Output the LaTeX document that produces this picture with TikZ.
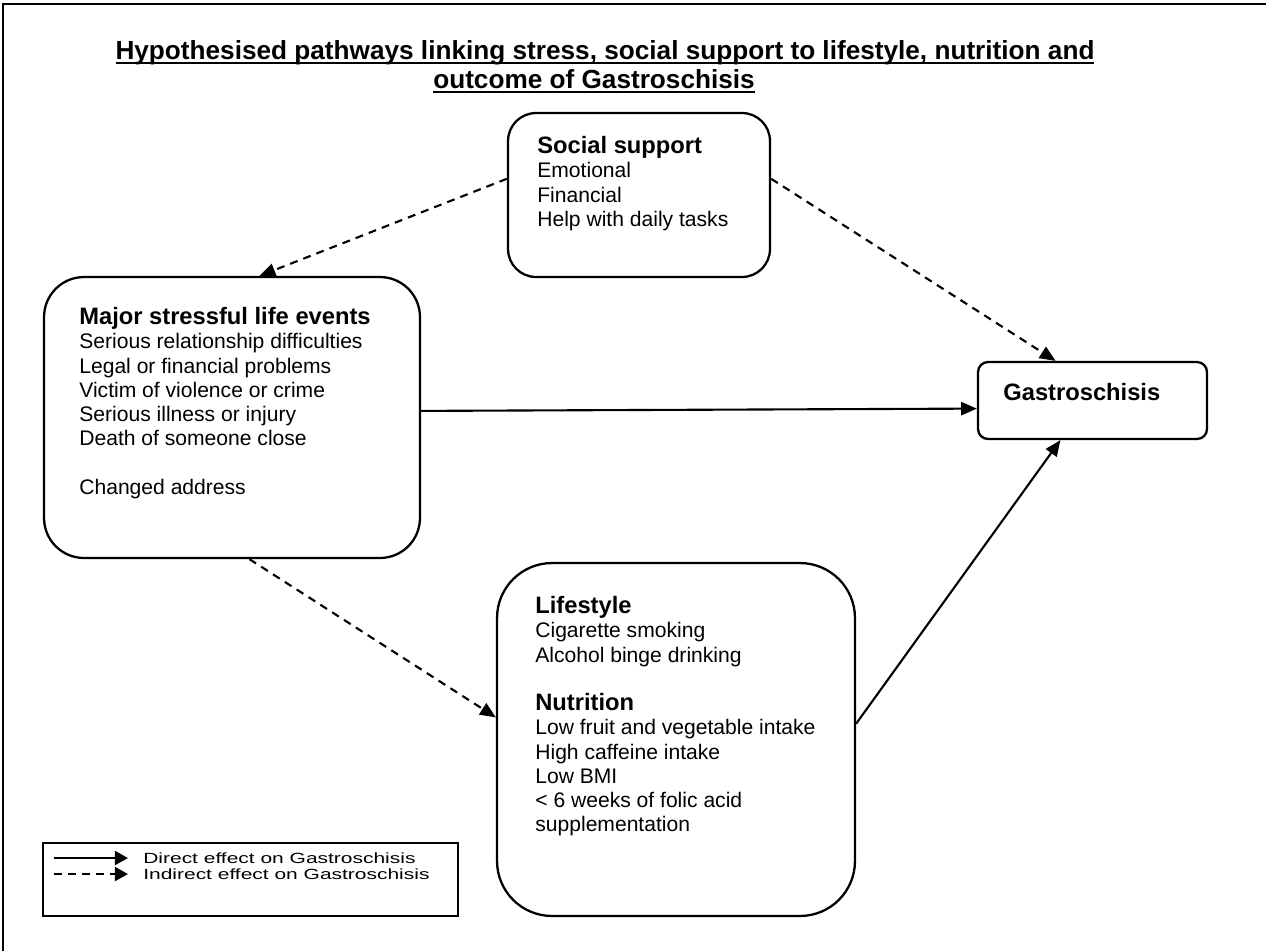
\documentclass[tikz,border=0pt]{standalone}
\usepackage{fontspec}
\setmainfont{Liberation Sans}
\newfontfamily\legendfont[FakeStretch=1.42]{Liberation Sans}
\usepackage{tikz}
\usetikzlibrary{arrows.meta}
\usetikzlibrary{positioning, shapes.misc}
\newcommand{\thickul}[1]{\leavevmode\setbox0=\hbox{#1}\rlap{\rule[-3pt]{\wd0}{1.4pt}}\box0}
\newcommand{\boxhead}[1]{{\fontsize{13.5}{13.8}\selectfont\bfseries #1}}
\tikzset{
factor box/.style = { rectangle, draw = black, fill = white, line width = 1.3pt, inner sep = 0pt },
factor text/.style = { anchor = north west, inner sep = 0pt, align = left, font = \fontsize{12}{13.8}\selectfont },
title line/.style = { anchor = base, inner sep = 0pt, font = \fontsize{14.9}{15.9}\selectfont\bfseries },
direct/.style = { line width = 1.2pt, -{Triangle[length = 9pt, width = 7.5pt]} },
indirect/.style = { direct, dash pattern = on 4.5pt off 3.5pt },
}

\begin{document}
\begin{tikzpicture}[x=0.02cm, y=-0.02cm]
    \useasboundingbox (0,0) rectangle (1266,951);
    % frame of the page, cut at right and bottom
    \draw[line width=1.6pt] (3,951) -- (3,4) -- (1266,4);
    \node[title line] (title1) at (605,59) {\thickul{Hypothesised pathways linking stress, social support to lifestyle, nutrition and}};
    \node[title line] (title2) at (594,88) {\thickul{outcome of Gastroschisis}};
    \begin{scope}[every node/.style={factor box}]
      \node[minimum width=5.24cm, minimum height=3.28cm, rounded corners=0.56cm] (social) at (639,195) {};
      \node[minimum width=7.52cm, minimum height=5.62cm, rounded corners=0.8cm] (stress) at (232,417.5) {};
      \node[minimum width=4.58cm, minimum height=1.54cm, rounded corners=0.2cm] (gastro) at (1092.5,400.5) {};
      \node[minimum width=7.16cm, minimum height=7.06cm, rounded corners=1.1cm] (lifestyle) at (676,739.5) {};
      \node[minimum width=8.3cm, minimum height=1.46cm, rounded corners=0pt] (legend) at (250.5,879.5) {};
    \end{scope}
    \node[factor text] (socialtxt) at (537,136) {\boxhead{Social support}\\Emotional\\Financial\\Help with daily tasks};
    \node[factor text] (stresstxt) at (79,307) {\boxhead{Major stressful life events}\\Serious relationship difficulties\\Legal or financial problems\\Victim of violence or crime\\Serious illness or injury\\Death of someone close\\[13.8pt]Changed address};
    \node[factor text] (gastrotxt) at (1003,383) {\boxhead{Gastroschisis}};
    \node[factor text] (lifestyletxt) at (535,596) {\boxhead{Lifestyle}\\Cigarette smoking\\Alcohol binge drinking\\[13.8pt]\boxhead{Nutrition}\\Low fruit and vegetable intake\\High caffeine intake\\Low BMI\\< 6 weeks of folic acid\\supplementation};
    \begin{scope}
      \path (social.173.5) edge[indirect] (stress.79.5);
      \path (social.7.4) edge[indirect] (gastro.133.5);
      \path (stress.2.6) edge[direct] (gastro.184.2);
      \path (stress.277.3) edge[indirect] (lifestyle.173.85);
      \path (lifestyle.5.9) edge[direct] (gastro.231.6);
    \end{scope}
    % legend
    \coordinate (dstart) at (54,858);
    \coordinate (dend) at (128,858);
    \coordinate (istart) at (54,874);
    \coordinate (iend) at (128,874);
    \path (dstart) edge[direct, -{Triangle[length=7.5pt, width=8pt]}] (dend);
    \path (istart) edge[indirect, -{Triangle[length=7.5pt, width=8pt]}] (iend);
    \node[factor text, font=\legendfont\fontsize{8.4}{9.07}\selectfont] (legendtxt) at (143,852) {Direct effect on Gastroschisis\\Indirect effect on Gastroschisis};
\end{tikzpicture}
\end{document}
